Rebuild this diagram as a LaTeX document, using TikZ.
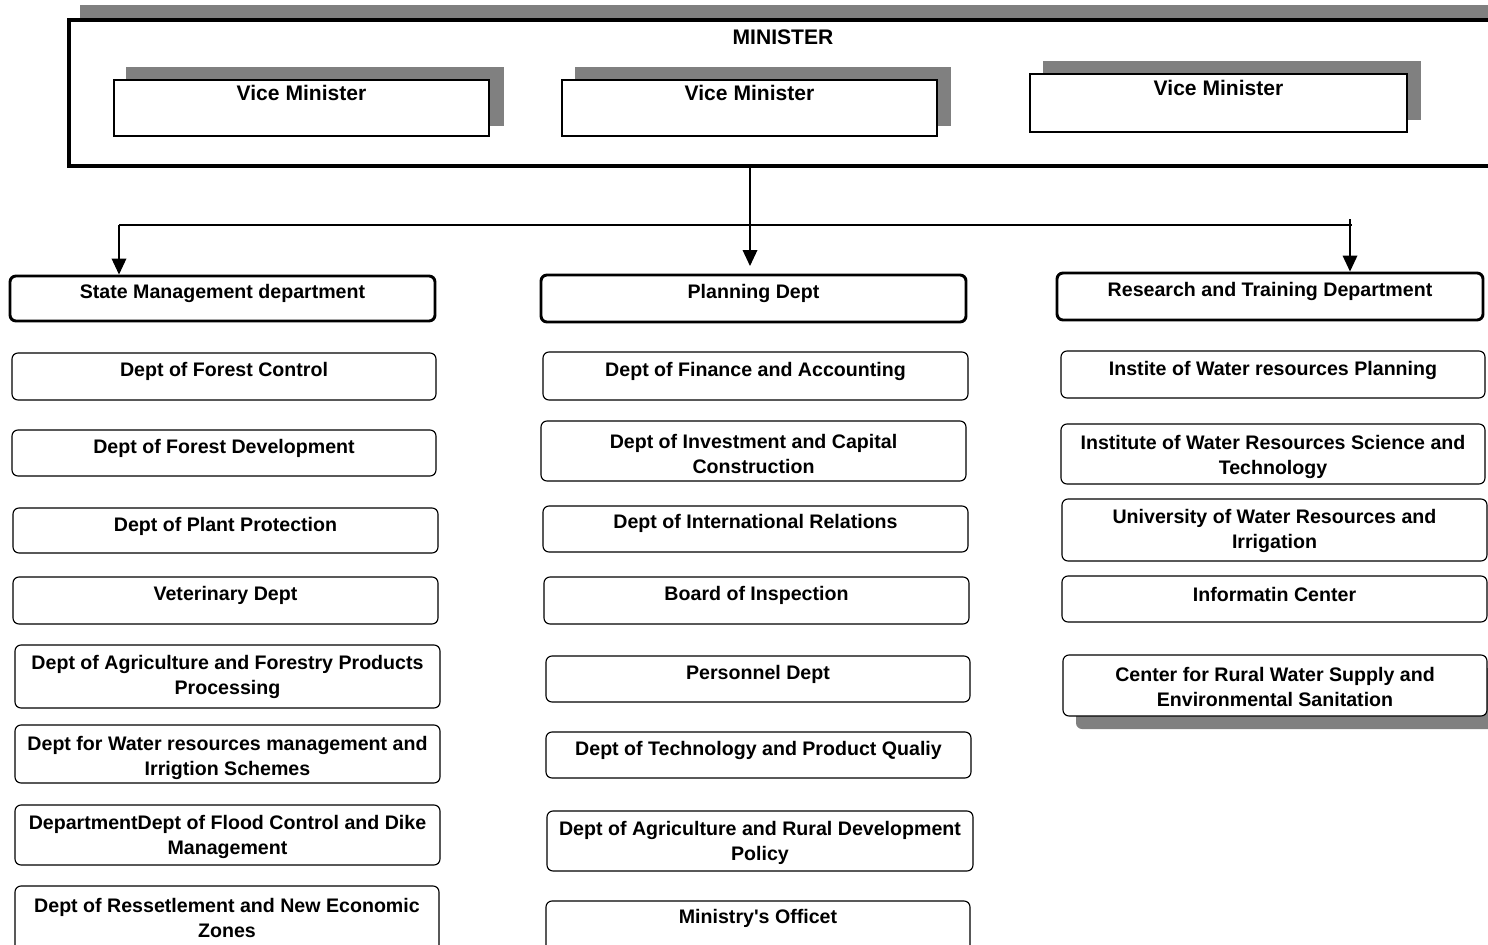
\documentclass[tikz,border=0pt]{standalone}
\usepackage{fontspec}
\setmainfont{Liberation Sans}
\usetikzlibrary{fit,calc,arrows.meta}
\definecolor{shadowgray}{HTML}{808080}
\tikzset{
  hdr/.style={draw, line width=2.2pt, rounded corners=4.5pt, fill=white, inner sep=0pt},
  sub/.style={draw, line width=0.85pt, rounded corners=4.5pt, fill=white, inner sep=0pt},
  vm/.style={draw, line width=0.85pt, fill=white, inner sep=0pt},
  shade/.style={fill=shadowgray, draw=none, inner sep=0pt},
  txt/.style={font=\fontsize{14.7}{19.1}\selectfont\bfseries, align=center, inner sep=0pt, yshift=-2.5pt},
  bigtxt/.style={font=\fontsize{15.8}{19.1}\selectfont\bfseries, align=center, inner sep=0pt},
  arr/.style={line width=1pt, -{Triangle[width=11pt,length=12pt]}},
}
\begin{document}
\begin{tikzpicture}[x=0.75pt,y=-0.75pt]
\useasboundingbox (0,0) rectangle (1488,945);
\clip (0,0) rectangle (1488,945);
% Minister
\node[shade, fit={(80,5)(1500,150)}] (minsh) {};
\node[draw, line width=3.4pt, fill=white, inner sep=0pt, fit={(69,20)(1500,166)}] (minister) {};
\node[bigtxt] (mintxt) at (783,37) {MINISTER};
% Vice ministers
\node[shade, fit={(126,67)(504,126)}] (vm1sh) {};
\node[vm, fit={(114,80)(489,136)}] (vm1) {};
\node[bigtxt] (vm1t) at ($(vm1.north)+(0,14)$) {Vice Minister};
\node[shade, fit={(575,67)(951,126)}] (vm2sh) {};
\node[vm, fit={(562,80)(937,136)}] (vm2) {};
\node[bigtxt] (vm2t) at ($(vm2.north)+(0,14)$) {Vice Minister};
\node[shade, fit={(1043,61)(1421,120)}] (vm3sh) {};
\node[vm, fit={(1030,74)(1407,132)}] (vm3) {};
\node[bigtxt] (vm3t) at ($(vm3.north)+(0,15)$) {Vice Minister};
% Headers
\node[hdr, fit={(10,276)(435,321)}] (state) {};
\node[txt] (statet) at ($(state.north)+(0,16)$) {State Management department};
\node[hdr, fit={(541,275)(966,322)}] (plan) {};
\node[txt] (plant) at ($(plan.north)+(0,17)$) {Planning Dept};
\node[hdr, fit={(1057,273)(1483,320)}] (res) {};
\node[txt] (rest) at ($(res.north)+(0,17)$) {Research and Training Department};
% Connectors
\coordinate (jl) at (119,225);
\coordinate (jr) at (1352,225);
\coordinate (rtop) at (1350,219);
\draw[line width=1pt] (jl) -- (jr);
\draw[arr] (minister.south -| 750,0) -- (750,266);
\draw[arr] (jl) -- (jl |- state.north);
\draw[arr] (rtop) -- (rtop |- res.north);
% Left column
\node[sub, fit={(12,353)(436,400)}] (l1) {};
\node[txt] (l1t) at ($(l1.north)+(0,16)$) {Dept of Forest Control};
\node[sub, fit={(12,430)(436,476)}] (l2) {};
\node[txt] (l2t) at ($(l2.north)+(0,16)$) {Dept of Forest Development};
\node[sub, fit={(13,508)(438,553)}] (l3) {};
\node[txt] (l3t) at ($(l3.north)+(0,16)$) {Dept of Plant Protection};
\node[sub, fit={(13,577)(438,624)}] (l4) {};
\node[txt] (l4t) at ($(l4.north)+(0,16)$) {Veterinary Dept};
\node[sub, fit={(15,645)(440,708)}] (l5) {};
\node[txt] (l5t) at ($(l5.north)+(0,29)$) {Dept of Agriculture and Forestry Products\\Processing};
\node[sub, fit={(15,725)(440,783)}] (l6) {};
\node[txt] (l6t) at ($(l6.north)+(0,30)$) {Dept for Water resources management and\\Irrigtion Schemes};
\node[sub, fit={(15,805)(440,865)}] (l7) {};
\node[txt] (l7t) at ($(l7.north)+(0,29)$) {DepartmentDept of Flood Control and Dike\\Management};
\node[sub, fit={(15,886)(439,960)}] (l8) {};
\node[txt] (l8t) at ($(l8.north)+(0,29)$) {Dept of Ressetlement and New Economic\\Zones};
% Middle column
\node[sub, fit={(543,352)(968,400)}] (m1) {};
\node[txt] (m1t) at ($(m1.north)+(0,17)$) {Dept of Finance and Accounting};
\node[sub, fit={(541,421)(966,481)}] (m2) {};
\node[txt] (m2t) at ($(m2.north)+(0,30)$) {Dept of Investment and Capital\\Construction};
\node[sub, fit={(543,506)(968,552)}] (m3) {};
\node[txt] (m3t) at ($(m3.north)+(0,15)$) {Dept of International Relations};
\node[sub, fit={(544,577)(969,624)}] (m4) {};
\node[txt] (m4t) at ($(m4.north)+(0,16)$) {Board of Inspection};
\node[sub, fit={(546,656)(970,702)}] (m5) {};
\node[txt] (m5t) at ($(m5.north)+(0,16)$) {Personnel Dept};
\node[sub, fit={(546,732)(971,778)}] (m6) {};
\node[txt] (m6t) at ($(m6.north)+(0,16)$) {Dept of Technology and Product Qualiy};
\node[sub, fit={(547,811)(973,871)}] (m7) {};
\node[txt] (m7t) at ($(m7.north)+(0,29)$) {Dept of Agriculture and Rural Development\\Policy};
\node[sub, fit={(546,901)(970,960)}] (m8) {};
\node[txt] (m8t) at ($(m8.north)+(0,15)$) {Ministry\textquotesingle s Officet};
% Right column
\node[sub, fit={(1061,351)(1485,398)}] (r1) {};
\node[txt] (r1t) at ($(r1.north)+(0,17)$) {Instite of Water resources Planning};
\node[sub, fit={(1061,424)(1485,484)}] (r2) {};
\node[txt] (r2t) at ($(r2.north)+(0,30)$) {Institute of Water Resources Science and\\Technology};
\node[sub, fit={(1062,499)(1487,561)}] (r3) {};
\node[txt] (r3t) at ($(r3.north)+(0,29)$) {University of Water Resources and\\Irrigation};
\node[sub, fit={(1062,576)(1487,622)}] (r4) {};
\node[txt] (r4t) at ($(r4.north)+(0,16)$) {Informatin Center};
\node[shade, rounded corners=4.5pt, fit={(1076,668)(1500,729)}] (r5sh) {};
\node[sub, fit={(1063,655)(1487,716)}] (r5) {};
\node[txt] (r5t) at ($(r5.north)+(0,29)$) {Center for Rural Water Supply and\\Environmental Sanitation};
\end{tikzpicture}
\end{document}
